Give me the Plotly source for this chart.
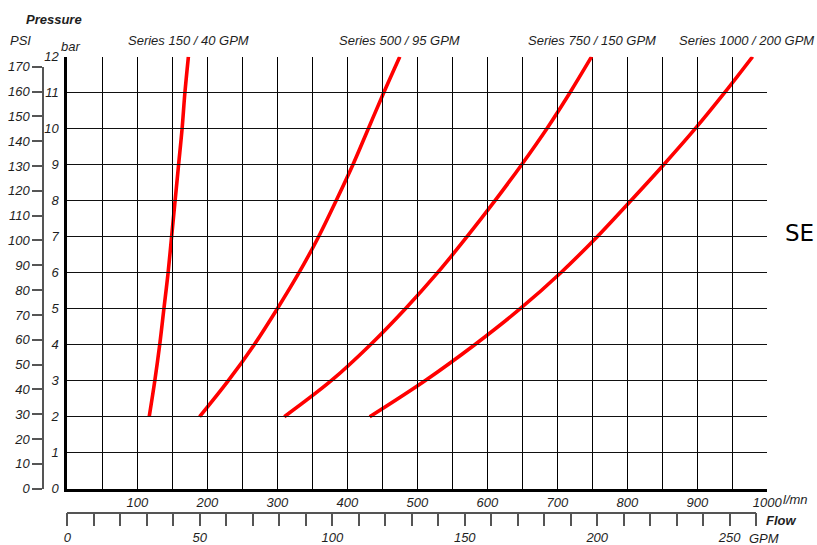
import plotly.graph_objects as go

# ---------------- data ----------------
pressure_bar = [2, 3, 4, 5, 6, 7, 8, 9, 10, 11, 12]
flow_s150 = [117, 125, 132, 138, 144, 149, 154, 159, 164, 168, 173]
flow_s500 = [189, 230, 267, 300, 331, 359, 384, 408, 430, 452, 475]
flow_s750 = [310, 377, 433, 483, 529, 571, 611, 649, 685, 718, 749]
flow_s1000 = [432, 511, 582, 647, 705, 757, 805, 852, 897, 939, 979]
series_names = ["Series 150 / 40 GPM", "Series 500 / 95 GPM",
                "Series 750 / 150 GPM", "Series 1000 / 200 GPM"]

bar_ticks = list(range(0, 13))
bar_labels = [str(v) for v in bar_ticks]
psi_ticks = list(range(0, 171, 10))
psi_labels = [str(v) for v in psi_ticks]
flow_ticks = list(range(0, 1001, 50))
flow_labels = [str(v) if (v % 100 == 0 and v > 0) else "" for v in flow_ticks]
gpm_ticks = list(range(0, 261, 10))
gpm_labels = [str(v) if v % 50 == 0 else "" for v in gpm_ticks]

# ---------------- layout helpers ----------------
W, H = 817, 545
def fx(px):
    return px / W
def fy(py):
    return 1 - py / H

PLOT_L, PLOT_R, PLOT_T, PLOT_B = 67.3, 767.3, 56.7, 488.7
PSI_TOP = 66.7
GPM_END = 756.2

FONT = "Liberation Sans, Arial, sans-serif"
TXT = "#1e1e1e"
AX = "#555555"
ital = dict(family=FONT, size=13, color=TXT, style="italic")

fig = go.Figure()
for flows in [flow_s150, flow_s500, flow_s750, flow_s1000]:
    fig.add_trace(go.Scatter(
        x=flows, y=pressure_bar, mode="lines",
        line=dict(color="#ff0000", width=3.6, shape="spline", smoothing=1.0),
        hoverinfo="skip", showlegend=False, cliponaxis=False))

# empty traces so that the secondary (PSI / GPM) axes get drawn
fig.add_trace(go.Scatter(x=[], y=[], xaxis="x", yaxis="y2", mode="lines",
                         hoverinfo="skip", showlegend=False))
fig.add_trace(go.Scatter(x=[], y=[], xaxis="x2", yaxis="y", mode="lines",
                         hoverinfo="skip", showlegend=False))

tops = [flow_s150[-1], flow_s500[-1], flow_s750[-1], flow_s1000[-1]]
annotations = []
for i, (name, xt) in enumerate(zip(series_names, tops)):
    if i < 3:
        annotations.append(dict(text=name, x=xt, xref="x", y=fy(40.5), yref="paper",
                                xanchor="center", yanchor="middle", showarrow=False,
                                font=ital))
    else:
        # last label would run past the page edge: keep it fully visible
        annotations.append(dict(text=name, x=fx(816), xref="paper", y=fy(40.5),
                                yref="paper", xanchor="right", yanchor="middle",
                                showarrow=False, font=ital))

def ann(text, px, py, anchor="center", font=None):
    return dict(text=text, x=fx(px), y=fy(py), xref="paper", yref="paper",
                xanchor=anchor, yanchor="middle", showarrow=False, font=font or ital)

bold_ital = dict(family=FONT, size=13, color=TXT, style="italic", weight="bold")
annotations += [
    ann("Pressure", 54, 19.5, font=bold_ital),
    ann("PSI", 20, 40.5),
    ann("bar", 70, 46),
    ann("l/mn", 780.5, 499.5, anchor="left"),
    ann("Flow", 764, 520.5, anchor="left", font=bold_ital),
    ann("GPM", 747, 538.5, anchor="left"),
    ann("SE", 783, 233, anchor="left",
        font=dict(family="DejaVu Sans", size=23, color="#000000")),
]

fig.update_layout(
    width=W, height=H,
    margin=dict(l=0, r=0, t=0, b=0, autoexpand=False),
    paper_bgcolor="white", plot_bgcolor="rgba(0,0,0,0)",
    showlegend=False,
    annotations=annotations,
    xaxis=dict(domain=[fx(PLOT_L), fx(PLOT_R)], range=[0, 1000], anchor="y",
               tickmode="array", tickvals=flow_ticks, ticktext=flow_labels,
               showgrid=True, gridcolor="#000000", gridwidth=1,
               showline=True, linecolor="#000000", linewidth=3,
               ticks="", tickfont=ital, zeroline=False, ticklabelstandoff=0,
               automargin=False, fixedrange=True),
    yaxis=dict(domain=[fy(PLOT_B), fy(PLOT_T)], range=[0, 12], anchor="x",
               tickmode="array", tickvals=bar_ticks, ticktext=bar_labels,
               showgrid=True, gridcolor="#111111", gridwidth=1,
               showline=True, linecolor="#000000", linewidth=3,
               ticks="", tickfont=ital, zeroline=False, ticklabelstandoff=3,
               automargin=False, fixedrange=True),
    yaxis2=dict(domain=[fy(PLOT_B), fy(PSI_TOP)], range=[0, 170], anchor="free",
                position=fx(43), side="left",
                tickmode="array", tickvals=psi_ticks, ticktext=psi_labels,
                showgrid=False, zeroline=False,
                showline=True, linecolor=AX, linewidth=1.5,
                ticks="outside", ticklen=10, tickwidth=1.5, tickcolor=AX,
                tickfont=ital, automargin=False, fixedrange=True),
    xaxis2=dict(domain=[fx(PLOT_L), fx(GPM_END)], range=[0, 260], anchor="free",
                position=fy(512.5), side="bottom",
                tickmode="array", tickvals=gpm_ticks, ticktext=gpm_labels,
                showgrid=False, zeroline=False,
                showline=True, linecolor=AX, linewidth=1.5,
                ticks="outside", ticklen=13, tickwidth=1.5, tickcolor=AX,
                tickfont=ital, automargin=False, fixedrange=True),
)

fig.write_html("out.html", config={"displayModeBar": False},
               post_script="document.body.style.margin='0';document.body.style.overflow='hidden';")
